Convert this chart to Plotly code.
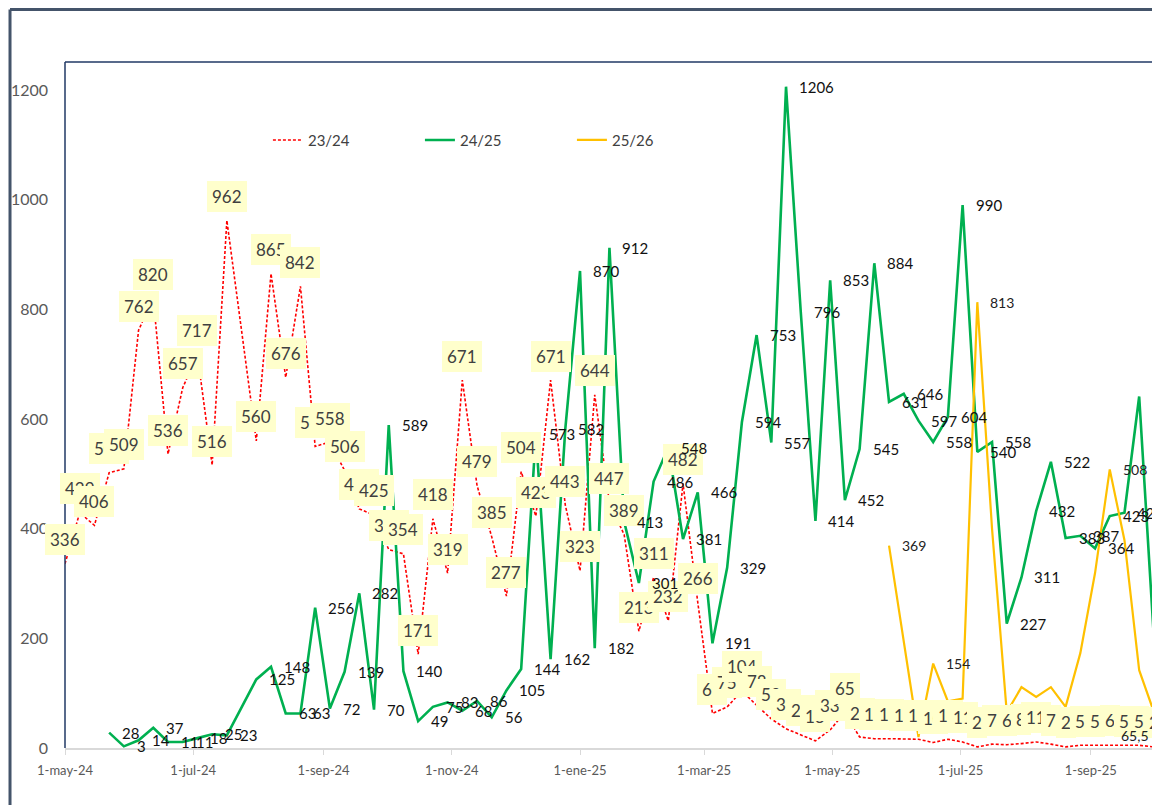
import plotly.graph_objects as go
import pandas as pd

# ---------------- data ----------------
start_date = "2024-05-01"
n_weeks = 75

s2324 = [336, 429, 406, 502, 509, 762, 820, 536, 657, 717, 516, 962, None,
         560, 865, 676, 842, 550, 558, 506, 436, 425, 362,
         354, 171, 418, 319, 671, 479, 385, 277, 504, 423,
         671, 443, 323, 644, 447, 389, 213, 311, 232, 482,
         266, 63, 75, 104, 78, 53, 35, 24, 13, 33,
         65, 20, 17, 17, 16, 16, 10, 16, 11, 2,
         7, 6, 8, 11, 7, 2, 5, 5, 6, 5,
         5, 2]

s2425 = [None, None, None, 28, 3, 14, 37, 11, 11, 18, 25, 23, None,
         125, 148, 63, 63, 256, 72, 139, 282, 70, 589,
         140, 49, 75, 83, 68, 86, 56, 105, 144,
         573, 162, 582, 870, 182, 912, 413, 301, 486, 548,
         381, 466, 191, 329, 594, 753, 557, 1206, 796, 414,
         853, 452, 545, 884, 631, 646, 597, 558, 604, 990,
         540, 558, 227, 311, 432, 522, 383, 387, 364, 423,
         429, 641, 200]

s2526 = [None] * 56 + [369, 190, 20, 154, 85, 90, 813, 400, 65, 111,
                       93, 111, 75, 173, 319, 508, 379, 142, 65.5]

# which 25/26 points carry a label
s2526_labelled = [56, 59, 62, 71, 74]

tick_dates = ["2024-05-01", "2024-07-01", "2024-09-01", "2024-11-01", "2025-01-01",
              "2025-03-01", "2025-05-01", "2025-07-01", "2025-09-01"]
tick_text = ["1-may-24", "1-jul-24", "1-sep-24", "1-nov-24", "1-ene-25",
             "1-mar-25", "1-may-25", "1-jul-25", "1-sep-25"]

names = ["23/24", "24/25", "25/26"]
colors = ["#FF0000", "#00B050", "#FFC000"]

# ---------------- figure ----------------
weeks = pd.date_range(start_date, periods=n_weeks, freq="7D")
FONT = "Lato, 'Open Sans', sans-serif"


def fmt(v):
    if v is None:
        return ""
    if float(v).is_integer():
        return str(int(v))
    return ("%g" % v).replace(".", ",")


fig = go.Figure()
fig.add_trace(go.Scatter(x=weeks, y=s2324, name=names[0], mode="lines", connectgaps=True,
                         line=dict(color=colors[0], width=1.6, dash="3px,2px")))
fig.add_trace(go.Scatter(x=weeks, y=s2425, name=names[1], mode="lines", connectgaps=True,
                         line=dict(color=colors[1], width=2.6)))
fig.add_trace(go.Scatter(x=weeks, y=s2526, name=names[2], mode="lines", connectgaps=True,
                         line=dict(color=colors[2], width=2.2)))

ann = []
for d, v in zip(weeks, s2324):
    if v is None:
        continue
    ann.append(dict(x=d, y=v, xref="x", yref="y", text=fmt(v), showarrow=False,
                    xanchor="center", yanchor="middle", yshift=24,
                    font=dict(family=FONT, size=17, color="#404040"),
                    bgcolor="#FFFFCC", bordercolor="#FFFFCC", borderwidth=1, borderpad=4))
for d, v in zip(weeks, s2425):
    if v is None:
        continue
    ann.append(dict(x=d, y=v, xref="x", yref="y", text=fmt(v), showarrow=False,
                    xanchor="left", yanchor="middle", xshift=11,
                    font=dict(family=FONT, size=15, color="#111111")))
for i in s2526_labelled:
    v = s2526[i]
    last = i == n_weeks - 1
    ann.append(dict(x=weeks[i], y=v, xref="x", yref="y", text=fmt(v), showarrow=False,
                    xanchor="right" if last else "left", yanchor="middle",
                    xshift=-3 if last else 11, yshift=-23 if last else 0,
                    font=dict(family=FONT, size=14, color="#222222")))

# plot area frame and outer chart frame
navy = "#203864"
slate = "#44546A"
shapes = [
    dict(type="line", xref="paper", yref="paper", x0=0, x1=0, y0=0, y1=1, line=dict(color=navy, width=1.5)),
    dict(type="line", xref="paper", yref="paper", x0=0, x1=1, y0=1, y1=1, line=dict(color=navy, width=1.5)),
    dict(type="line", xref="paper", yref="paper", x0=1, x1=1, y0=0, y1=1, line=dict(color=navy, width=1.5)),
    dict(type="line", xref="paper", yref="paper", x0=-0.0504, x1=1.01, y0=1.0765, y1=1.0765,
         line=dict(color=slate, width=3)),
    dict(type="line", xref="paper", yref="paper", x0=-0.0504, x1=-0.0504, y0=-0.09, y1=1.0765,
         line=dict(color=slate, width=3)),
]

# the page adds an 8px body margin, so the figure is 8px smaller on each leading edge
fig.update_layout(
    width=1152, height=797,
    margin=dict(l=57, r=4, t=54, b=57),
    paper_bgcolor="white", plot_bgcolor="white",
    font=dict(family=FONT, color="#595959"),
    showlegend=True,
    legend=dict(orientation="h", x=0.186, y=0.886, xanchor="left", yanchor="middle",
                font=dict(family=FONT, size=15, color="#404040"),
                entrywidth=107, entrywidthmode="pixels", bgcolor="rgba(0,0,0,0)"),
    annotations=ann,
    shapes=shapes,
)
fig.update_xaxes(range=["2024-05-01", "2025-10-02"], tickvals=tick_dates, ticktext=tick_text,
                 showgrid=False, zeroline=False, showline=True, linecolor="#D9D9D9", linewidth=1.5,
                 ticks="outside", ticklen=5, tickcolor="#D9D9D9", ticklabelstandoff=5,
                 tickfont=dict(family=FONT, size=13, color="#595959"))
fig.update_yaxes(range=[0, 1251], tickvals=[0, 200, 400, 600, 800, 1000, 1200],
                 showgrid=False, zeroline=False, showline=False, ticks="",
                 ticklabelstandoff=16,
                 tickfont=dict(family=FONT, size=16, color="#595959"))

fig.write_html("out.html")
